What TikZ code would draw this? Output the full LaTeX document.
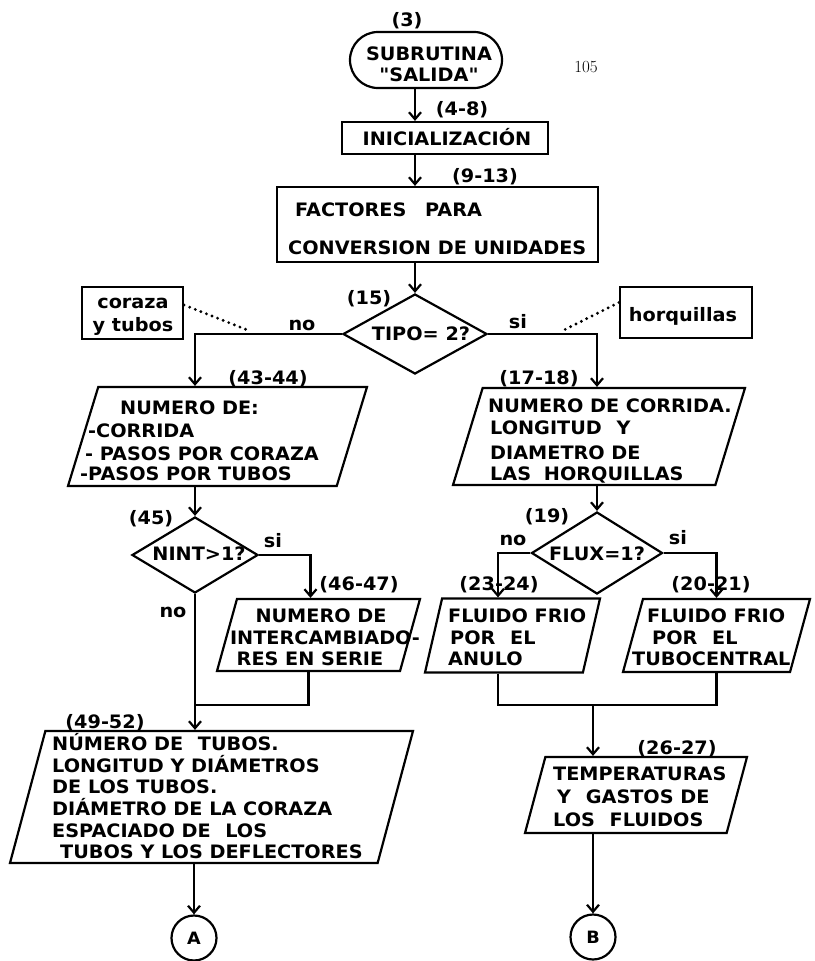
\documentclass[tikz,border=0pt]{standalone}
\usepackage{fontspec}
\usetikzlibrary{shapes.geometric,arrows.meta}
\newfontfamily\lettering{DejaVu Sans}[FakeStretch=1.04]
\newcommand\lettersize{\fontsize{18.5}{21}\selectfont}
% invisible strut that sets the height of a slanted data box
\newcommand\boxheight[1]{\rule{0pt}{#1}}

\tikzset{
  stroke/.style={line width=2.2pt},
  arr/.style={line width=2.2pt, -{Straight Barb[length=7pt,width=12pt]}},
  procbox/.style={draw, line width=2.2pt, rectangle, inner sep=0pt},
  termbox/.style={draw, line width=2.2pt, rectangle, rounded corners=28pt, inner sep=0pt},
  iobox/.style={draw, line width=2.2pt, trapezium, trapezium stretches body,
                inner sep=0pt, trapezium left angle=#1, trapezium right angle=180-#1},
  testbox/.style={draw, line width=2.2pt, diamond, inner sep=0pt},
  notebox/.style={draw, line width=2.2pt, rectangle, inner sep=0pt},
  connector/.style={draw, line width=2.2pt, circle, inner sep=0pt, minimum size=45pt,
                    font=\lettering\bfseries\fontsize{17}{17}\selectfont},
  notelink/.style={line width=3.2pt, dash pattern=on 0pt off 6pt, line cap=round},
  ctxt/.style={font=\lettering\bfseries\lettersize, inner sep=0pt, anchor=base},
  ltxt/.style={font=\lettering\bfseries\lettersize, inner sep=0pt, anchor=base west},
}

\begin{document}
\begin{tikzpicture}[x=1pt,y=-1pt]
\fill[white] (0,0) rectangle (814,961);
\useasboundingbox (0,0) rectangle (814,961);

% page number
\node[font=\rmfamily\fontsize{17}{17}\selectfont, inner sep=0pt, anchor=base] (page) at (586,72) {105};

% ---- main column -------------------------------------------------
\node[termbox, minimum width=152pt, minimum height=56pt] (start) at (426,60) {};
\node[ctxt] (startA) at (429,60) {SUBRUTINA};
\node[ctxt] (startB) at (429,81) {"SALIDA"};
\node[ctxt] (n3) at (407,27) {(3)};

\node[procbox, minimum width=206pt, minimum height=32pt] (init) at (445,138) {};
\node[ctxt] (initT) at (447,145) {INICIALIZACIÓN};
\node[ctxt] (n48) at (462,115) {(4-8)};

\node[procbox, minimum width=321pt, minimum height=75pt] (fact) at (437.5,224.5) {};
\node[ltxt] (factA) at (295,216) {FACTORES\hspace{12pt} PARA};
\node[ltxt] (factB) at (288,254) {CONVERSION DE UNIDADES};
\node[ctxt] (n913) at (485,182) {(9-13)};

\node[testbox, minimum width=144pt, minimum height=80pt] (tipo) at (415,334) {};
\node[ctxt] (tipoT) at (421,340) {TIPO= 2?};
\node[ctxt] (n15) at (369,304) {(15)};
\node[ctxt] (tipoNo) at (302,330) {no};
\node[ctxt] (tipoSi) at (518,328) {si};

% side notes
\node[notebox, minimum width=101pt, minimum height=52pt] (coraza) at (132.5,313) {};
\node[ctxt] (corazaA) at (133,308) {coraza};
\node[ctxt] (corazaB) at (133,331) {y tubos};
\node[notebox, minimum width=132pt, minimum height=51pt] (horq) at (686,312.5) {};
\node[ctxt] (horqT) at (683,321) {horquillas};
\coordinate (corazaTip) at (250,331);
\coordinate (horqTip) at (562,331);

% ---- left branch ---------------------------------------------------
\node[iobox=73, minimum width=299pt] (pL) at (217.5,436.5) {\boxheight{99pt}};
\node[ltxt] (pLa) at (120,414) {NUMERO DE:};
\node[ltxt] (pLb) at (88,437) {-CORRIDA};
\node[ltxt] (pLc) at (85,460) {- PASOS POR CORAZA};
\node[ltxt] (pLd) at (80,480) {-PASOS POR TUBOS};
\node[ctxt] (n4344) at (268,384) {(43-44)};

\node[testbox, minimum width=126pt, minimum height=76pt] (nint) at (195,555) {};
\node[ctxt] (nintT) at (199,560) {NINT>1?};
\node[ctxt] (n45) at (151,524) {(45)};
\node[ctxt] (nintSi) at (273,547) {si};
\node[ctxt] (nintNo) at (173,617) {no};

\node[iobox=74.5, minimum width=203pt] (pI) at (318.5,635) {\boxheight{72pt}};
\node[ctxt] (pIa) at (321,622) {NUMERO DE};
\node[ctxt] (pIb) at (325,644) {INTERCAMBIADO-};
\node[ctxt] (pIc) at (310,665) {RES EN SERIE};
\node[ctxt] (n4647) at (359,590) {(46-47)};
\coordinate (joinL) at (195,705);

\node[iobox=75, minimum width=403pt] (pBig) at (211.5,797) {\boxheight{132pt}};
\node[ltxt] (pBa) at (52,750) {NÚMERO DE\hspace{8pt} TUBOS.};
\node[ltxt] (pBb) at (52,772) {LONGITUD Y DIÁMETROS};
\node[ltxt] (pBc) at (52,793) {DE LOS TUBOS.};
\node[ltxt] (pBd) at (52,815) {DIÁMETRO DE LA CORAZA};
\node[ltxt] (pBe) at (52,837) {ESPACIADO DE\hspace{8pt} LOS};
\node[ltxt] (pBf) at (60,858) {TUBOS Y LOS DEFLECTORES};
\node[ctxt] (n4952) at (105,728) {(49-52)};

\node[connector] (A) at (194,938) {A};

% ---- right branch --------------------------------------------------
\node[iobox=73, minimum width=292pt] (pR) at (599,436.5) {\boxheight{97pt}};
\node[ltxt] (pRa) at (488,412) {NUMERO DE CORRIDA.};
\node[ltxt] (pRb) at (490,434) {LONGITUD\hspace{8pt} Y};
\node[ltxt] (pRc) at (490,459) {DIAMETRO DE};
\node[ltxt] (pRd) at (490,480) {LAS\hspace{6pt} HORQUILLAS};
\node[ctxt] (n1718) at (539,384) {(17-18)};

\node[testbox, minimum width=131pt, minimum height=82pt] (flux) at (597,553) {};
\node[ctxt] (fluxT) at (597,560) {FLUX=1?};
\node[ctxt] (n19) at (547,522) {(19)};
\node[ctxt] (fluxNo) at (513,545) {no};
\node[ctxt] (fluxSi) at (678,544) {si};

\node[iobox=77, minimum width=175pt] (pA) at (512.5,635.5) {\boxheight{74pt}};
\node[ltxt] (pAa) at (448,622) {FLUIDO FRIO};
\node[ltxt] (pAb) at (450,644) {POR\hspace{8pt} EL};
\node[ltxt] (pAc) at (448,665) {ANULO};
\node[ctxt] (n2324) at (499,590) {(23-24)};

\node[iobox=74.7, minimum width=187pt] (pT) at (716.5,635.5) {\boxheight{73pt}};
\node[ltxt] (pTa) at (647,622) {FLUIDO FRIO};
\node[ltxt] (pTb) at (652,644) {POR\hspace{8pt} EL};
\node[ltxt] (pTc) at (632,665) {TUBOCENTRAL};
\node[ctxt] (n2021) at (711,590) {(20-21)};
\coordinate (joinR) at (593,705);

\node[iobox=75, minimum width=222pt] (pTemp) at (636,795) {\boxheight{76pt}};
\node[ltxt] (pTea) at (553,780) {TEMPERATURAS};
\node[ltxt] (pTeb) at (557,803) {Y\hspace{8pt} GASTOS DE};
\node[ltxt] (pTec) at (553,826) {LOS\hspace{8pt} FLUIDOS};
\node[ctxt] (n2627) at (677,754) {(26-27)};

\node[connector] (B) at (593,937) {B};

% ---- connectors ----------------------------------------------------
\draw[arr] (start.south -| tipo.north) -- (init.north -| tipo.north);
\draw[arr] (init.south -| tipo.north) -- (fact.north -| tipo.north);
\draw[arr] (fact.south -| tipo.north) -- (tipo.north);
\draw[arr] (tipo.west) -| (pL.north -| nint.north);
\draw[arr] (tipo.east) -| (pR.north -| flux.north);
\draw[notelink] ([yshift=8pt]coraza.east) -- (corazaTip);
\draw[notelink] ([yshift=10pt]horq.west) -- (horqTip);

\draw[arr] (pL.south -| nint.north) -- (nint.north);
\draw[arr] (nint.east) -| ([xshift=-8pt]pI.north);
\draw[stroke] ([xshift=-10pt]pI.south) |- (joinL);
\draw[arr] (nint.south) -- (pBig.north -| nint.south);
\draw[arr] (pBig.south -| A.north) -- (A.north);

\draw[arr] (pR.south -| flux.north) -- (flux.north);
\draw[arr] (flux.west) -| ([xshift=-14.5pt]pA.north);
\draw[arr] (flux.east) -| (pT.north);
\draw[stroke] ([xshift=-14.5pt]pA.south) |- (joinR) -| (pT.south);
\draw[arr] (joinR) -- (pTemp.north -| joinR);
\draw[arr] (pTemp.south -| B.north) -- (B.north);
\end{tikzpicture}
\end{document}
